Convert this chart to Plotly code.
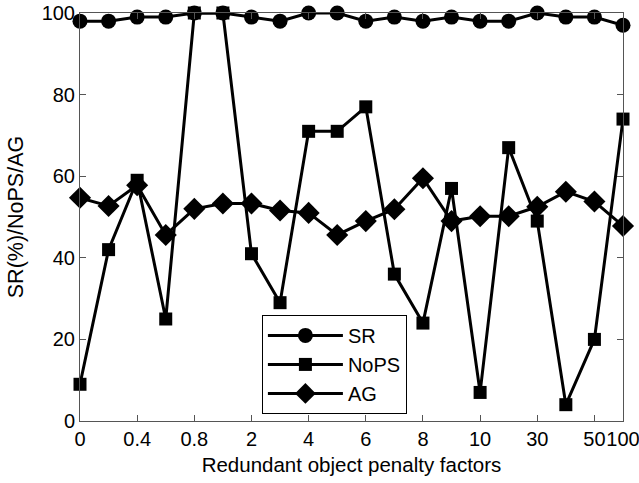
import plotly.graph_objects as go

categories = ["0", "0.2", "0.4", "0.6", "0.8", "1", "2", "3", "4", "5", "6", "7", "8", "9", "10", "20", "30", "40", "50", "100"]
tick_labels = ["0", "0.4", "0.8", "2", "4", "6", "8", "10", "30", "50", "100"]
sr = [98, 98, 99, 99, 100, 100, 99, 98, 100, 100, 98, 99, 98, 99, 98, 98, 100, 99, 99, 97]
nops = [9, 42, 59, 25, 100, 100, 41, 29, 71, 71, 77, 36, 24, 57, 7, 67, 49, 4, 20, 74]
ag = [54.7, 52.7, 57.8, 45.6, 52.0, 53.3, 53.3, 51.6, 51.0, 45.6, 49.0, 51.9, 59.5, 49.0, 50.2, 50.2, 52.5, 56.2, 53.8, 47.8]

x = list(range(len(categories)))
tickvals = [categories.index(t) for t in tick_labels]

FONT = "Liberation Sans, Arial"

fig = go.Figure()
specs = [("SR", sr, "circle", 15), ("NoPS", nops, "square", 13), ("AG", ag, "diamond", 17)]
for name, vals, sym, size in specs:
    fig.add_trace(go.Scatter(
        x=x, y=vals, name=name, mode="lines+markers",
        line=dict(color="black", width=3),
        marker=dict(symbol=sym, size=size, color="black"),
        cliponaxis=False,
    ))

axis_common = dict(
    showline=True, linecolor="#555", linewidth=1, mirror="ticks",
    ticks="inside", ticklen=6, tickcolor="#555", showgrid=False, zeroline=False,
    automargin=False, ticklabeloverflow="allow", tickangle=0,
    tickfont=dict(family=FONT, size=20, color="black"),
)
fig.update_xaxes(range=[0, 19], tickvals=tickvals, ticktext=tick_labels,
                 title=dict(text="Redundant object penalty factors",
                            font=dict(family=FONT, size=20.5, color="black"), standoff=8),
                 **axis_common)
fig.update_yaxes(range=[0, 100], tickvals=[0, 20, 40, 60, 80, 100],
                 title=dict(text="SR(%)/NoPS/AG",
                            font=dict(family=FONT, size=21.5, color="black"), standoff=12),
                 **axis_common)

fig.update_layout(
    width=639, height=483,
    margin=dict(l=80, r=16, t=13, b=62),
    paper_bgcolor="white", plot_bgcolor="white",
    showlegend=True,
    legend=dict(x=0.335, y=0.26, xanchor="left", yanchor="top",
                bgcolor="white", bordercolor="black", borderwidth=1,
                font=dict(family=FONT, size=20, color="black"),
                itemwidth=75, tracegroupgap=0),
)
fig.write_html("out.html", config={"displayModeBar": False},
               post_script="document.body.style.margin='0px';")
